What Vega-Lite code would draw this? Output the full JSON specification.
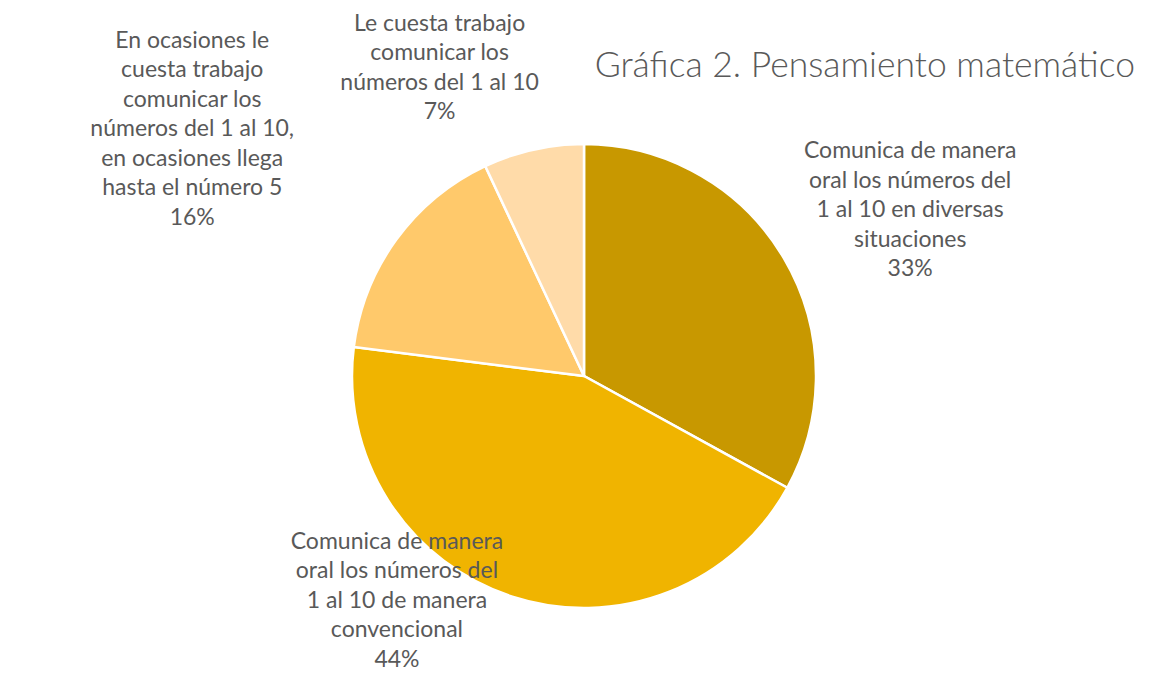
{
  "$schema": "https://vega.github.io/schema/vega-lite/v6.json",
  "width": 1138,
  "height": 594,
  "padding": {"left": 15, "top": 79, "right": 0, "bottom": 0},
  "autosize": {"type": "none"},
  "background": "white",
  "config": {"view": {"stroke": null}},
  "title": {
    "text": "Gráfica 2. Pensamiento matemático",
    "anchor": "end",
    "frame": "group",
    "orient": "top",
    "baseline": "middle",
    "font": "Lato",
    "fontWeight": 300,
    "fontSize": 35.5,
    "color": "#595959",
    "offset": -251,
    "dx": -18
  },
  "data": {
    "values": [
      {"orden": 1, "porcentaje": 33, "categoria": "Comunica de manera oral los números del 1 al 10 en diversas situaciones", "etiqueta": "Comunica de manera\noral los números del\n1 al 10 en diversas\nsituaciones\n33%"},
      {"orden": 2, "porcentaje": 44, "categoria": "Comunica de manera oral los números del 1 al 10 de manera convencional", "etiqueta": "Comunica de manera\noral los números del\n1 al 10 de manera\nconvencional\n44%"},
      {"orden": 3, "porcentaje": 16, "categoria": "En ocasiones le cuesta trabajo comunicar los números del 1 al 10, en ocasiones llega hasta el número 5", "etiqueta": "En ocasiones le\ncuesta trabajo\ncomunicar los\nnúmeros del 1 al 10,\nen ocasiones llega\nhasta el número 5\n16%"},
      {"orden": 4, "porcentaje": 7, "categoria": "Le cuesta trabajo comunicar los números del 1 al 10", "etiqueta": "Le cuesta trabajo\ncomunicar los\nnúmeros del 1 al 10\n7%"}
    ]
  },
  "encoding": {
    "theta": {"field": "porcentaje", "type": "quantitative", "stack": true},
    "order": {"field": "orden", "type": "quantitative"}
  },
  "layer": [
    {
      "mark": {"type": "arc", "outerRadius": 232, "stroke": "white", "strokeWidth": 2.5},
      "encoding": {
        "color": {
          "field": "categoria",
          "type": "nominal",
          "scale": {
            "domain": [
              "Comunica de manera oral los números del 1 al 10 en diversas situaciones",
              "Comunica de manera oral los números del 1 al 10 de manera convencional",
              "En ocasiones le cuesta trabajo comunicar los números del 1 al 10, en ocasiones llega hasta el número 5",
              "Le cuesta trabajo comunicar los números del 1 al 10"
            ],
            "range": ["#C89800", "#F0B400", "#FFC96B", "#FFDBA9"]
          },
          "legend": null
        }
      }
    },
    {
      "mark": {"type": "text", "radius": 365, "dx": 12, "dy": -39, "font": "Lato", "fontSize": 23, "lineHeight": 29.5, "lineBreak": "\n", "color": "#595959", "align": "center", "baseline": "middle"},
      "encoding": {"text": {"condition": {"test": "datum.orden === 1", "field": "etiqueta"}, "value": ""}}
    },
    {
      "mark": {"type": "text", "radius": 272, "dx": -103, "dy": -93, "font": "Lato", "fontSize": 23, "lineHeight": 29.5, "lineBreak": "\n", "color": "#595959", "align": "center", "baseline": "middle"},
      "encoding": {"text": {"condition": {"test": "datum.orden === 2", "field": "etiqueta"}, "value": ""}}
    },
    {
      "mark": {"type": "text", "radius": 462, "dx": -18, "dy": -63.5, "font": "Lato", "fontSize": 23, "lineHeight": 29.5, "lineBreak": "\n", "color": "#595959", "align": "center", "baseline": "middle"},
      "encoding": {"text": {"condition": {"test": "datum.orden === 3", "field": "etiqueta"}, "value": ""}}
    },
    {
      "mark": {"type": "text", "radius": 332, "dx": -72, "dy": -28, "font": "Lato", "fontSize": 23, "lineHeight": 29.5, "lineBreak": "\n", "color": "#595959", "align": "center", "baseline": "middle"},
      "encoding": {"text": {"condition": {"test": "datum.orden === 4", "field": "etiqueta"}, "value": ""}}
    }
  ]
}
